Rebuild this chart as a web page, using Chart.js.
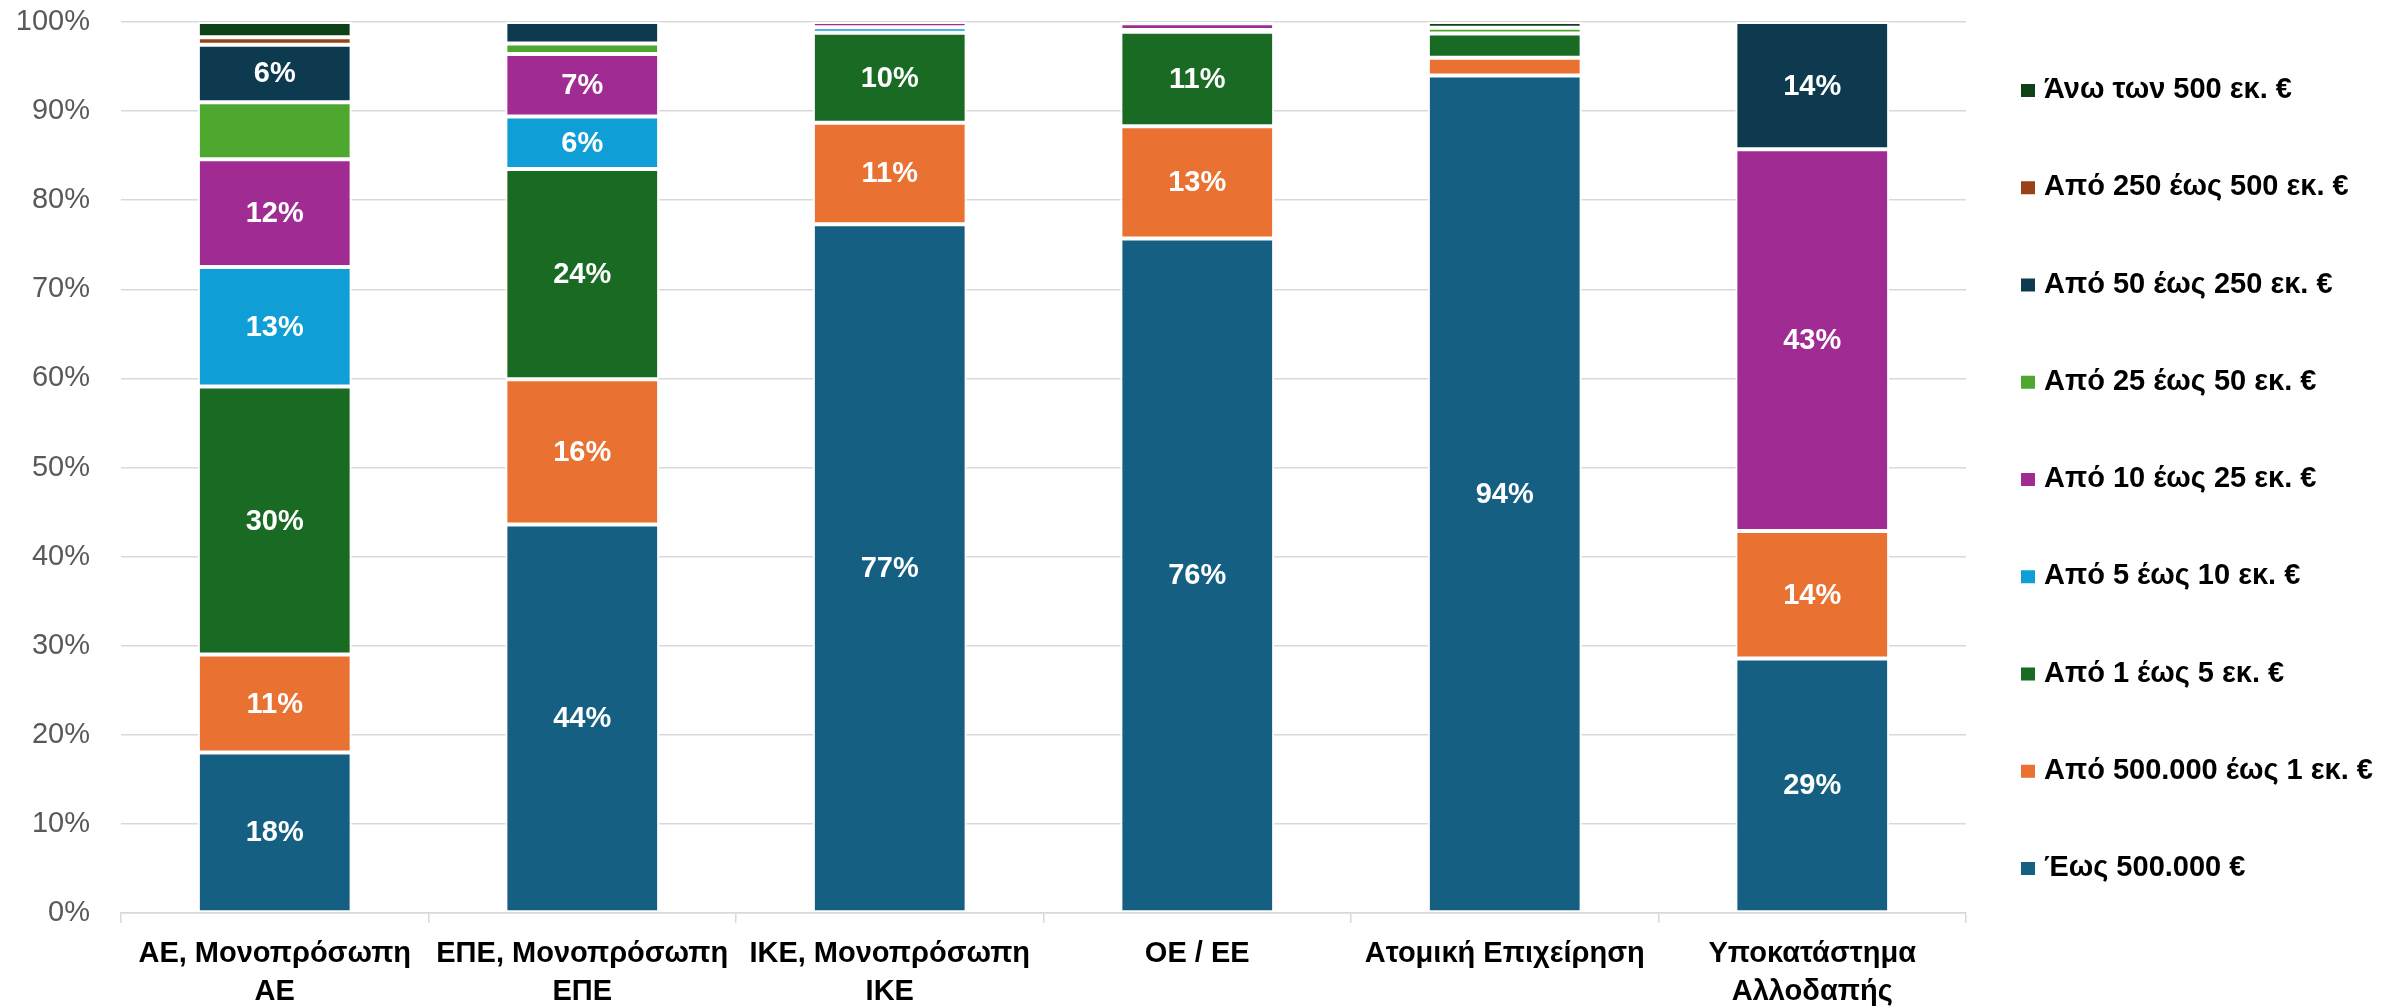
<!DOCTYPE html>
<html>
<head>
<meta charset="utf-8">
<script src="https://cdn.jsdelivr.net/npm/chart.js@4.4.1/dist/chart.umd.min.js"></script>
<style>
  html, body { margin: 0; padding: 0; background: #ffffff; }
  #wrap { width: 2405px; height: 1008px; }
</style>
</head>
<body>
<div id="wrap"><canvas id="chart" width="2405" height="1008"></canvas></div>
<script>
// Legal forms (x categories)
const categories = [
  ['ΑΕ, Μονοπρόσωπη', 'ΑΕ'],
  ['ΕΠΕ, Μονοπρόσωπη', 'ΕΠΕ'],
  ['ΙΚΕ, Μονοπρόσωπη', 'ΙΚΕ'],
  'ΟΕ / ΕΕ',
  'Ατομική Επιχείρηση',
  ['Υποκατάστημα', 'Αλλοδαπής']
];

// Size bands, from the bottom of each stack to the top
const seriesNames = [
  'Έως 500.000 €',
  'Από 500.000 έως 1 εκ. €',
  'Από 1 έως 5 εκ. €',
  'Από 5 έως 10 εκ. €',
  'Από 10 έως 25 εκ. €',
  'Από 25 έως 50 εκ. €',
  'Από 50 έως 250 εκ. €',
  'Από 250 έως 500 εκ. €',
  'Άνω των 500 εκ. €'
];

const seriesColors = [
  '#156082', '#E97132', '#196B24', '#0F9ED5', '#A02B93',
  '#4EA72E', '#0E3A50', '#9A4216', '#0F4118'
];

// Share of companies per band (%), one value per category
const upTo500k     = [18.0, 43.6, 77.3, 75.7, 94.0, 28.57];
const from500kTo1m = [11.0, 16.3, 11.4, 12.6, 2.0, 14.29];
const from1To5m    = [30.1, 23.6, 10.1, 10.6, 2.7, 0];
const from5To10m   = [13.4, 5.9, 0.6, 0.2, 0, 0];
const from10To25m  = [12.1, 7.0, 0.6, 0.75, 0, 42.86];
const from25To50m  = [6.4, 1.2, 0, 0, 0.65, 0];
const from50To250m = [6.45, 2.4, 0, 0.15, 0, 14.29];
const from250To500m= [0.85, 0, 0, 0, 0, 0];
const over500m     = [1.7, 0, 0, 0, 0.65, 0];

const seriesValues = [
  upTo500k, from500kTo1m, from1To5m, from5To10m, from10To25m,
  from25To50m, from50To250m, from250To500m, over500m
];

// Bands whose segments carry a value label
const seriesLabelled = [true, true, true, true, true, false, true, true, true];
const labelMinValue = 5;

const yTicks = [0, 10, 20, 30, 40, 50, 60, 70, 80, 90, 100];

const FONT = "'Liberation Sans', Arial, sans-serif";

// Value labels centred in each stacked segment
const segmentLabels = {
  id: 'segmentLabels',
  afterDatasetsDraw(chart) {
    const ctx = chart.ctx;
    ctx.save();
    ctx.font = 'bold 29px ' + FONT;
    ctx.fillStyle = '#ffffff';
    ctx.textAlign = 'center';
    ctx.textBaseline = 'middle';
    chart.data.datasets.forEach((ds, di) => {
      if (!seriesLabelled[di]) return;
      const meta = chart.getDatasetMeta(di);
      meta.data.forEach((bar, i) => {
        const v = ds.data[i];
        if (v < labelMinValue) return;
        const p = bar.getProps(['x', 'y', 'base'], true);
        ctx.fillText(Math.round(v) + '%', p.x, (p.y + p.base) / 2 + 1);
      });
    });
    ctx.restore();
  }
};

// Legend column at the right, top band first
const sideLegend = {
  id: 'sideLegend',
  afterDraw(chart) {
    const ctx = chart.ctx;
    const area = chart.chartArea;
    const boxX = area.right + 55;
    const firstY = 90;
    const step = 97.25;
    ctx.save();
    ctx.font = 'bold 29px ' + FONT;
    ctx.textAlign = 'left';
    ctx.textBaseline = 'middle';
    const n = chart.data.datasets.length;
    for (let k = 0; k < n; k++) {
      const ds = chart.data.datasets[n - 1 - k];
      const cy = firstY + k * step;
      ctx.fillStyle = ds.backgroundColor;
      ctx.fillRect(boxX, cy - 6, 14, 13);
      ctx.fillStyle = '#000000';
      ctx.fillText(ds.label, boxX + 23, cy);
    }
    ctx.restore();
  }
};

const datasets = seriesNames.map((name, i) => ({
  label: name,
  data: seriesValues[i],
  backgroundColor: seriesColors[i],
  borderColor: '#ffffff',
  borderWidth: 2,
  borderSkipped: false,
  barPercentage: 0.5,
  categoryPercentage: 1.0
}));

new Chart(document.getElementById('chart'), {
  type: 'bar',
  data: { labels: categories, datasets },
  options: {
    responsive: false,
    animation: false,
    devicePixelRatio: 1,
    layout: { padding: { top: 22, right: 439, bottom: 0, left: 0 } },
    plugins: {
      legend: { display: false },
      tooltip: { enabled: false }
    },
    scales: {
      x: {
        stacked: true,
        offset: true,
        grid: {
          offset: true,
          drawOnChartArea: false,
          drawTicks: true,
          tickLength: 10,
          color: '#d9d9d9',
          lineWidth: 1.5
        },
        border: { display: true, color: '#d9d9d9', width: 1.5 },
        ticks: {
          padding: 12,
          color: '#000000',
          font: { family: FONT, size: 29, weight: 'bold', lineHeight: 1.31 },
          maxRotation: 0,
          autoSkip: false
        },
        afterFit(scale) {
          scale.height = 95;
          scale.paddingTop = 0;
          scale.paddingBottom = 0;
        }
      },
      y: {
        stacked: true,
        min: 0,
        max: 100,
        afterBuildTicks(scale) { scale.ticks = yTicks.map(v => ({ value: v })); },
        grid: { color: '#d9d9d9', lineWidth: 1.5, drawTicks: false },
        border: { display: false },
        ticks: {
          padding: 31,
          color: '#595959',
          font: { family: FONT, size: 29 },
          callback: (v) => v + '%'
        },
        afterFit(scale) {
          scale.width = 121;
          scale.paddingTop = 0;
          scale.paddingBottom = 0;
        }
      }
    }
  },
  plugins: [segmentLabels, sideLegend]
});
</script>
</body>
</html>
